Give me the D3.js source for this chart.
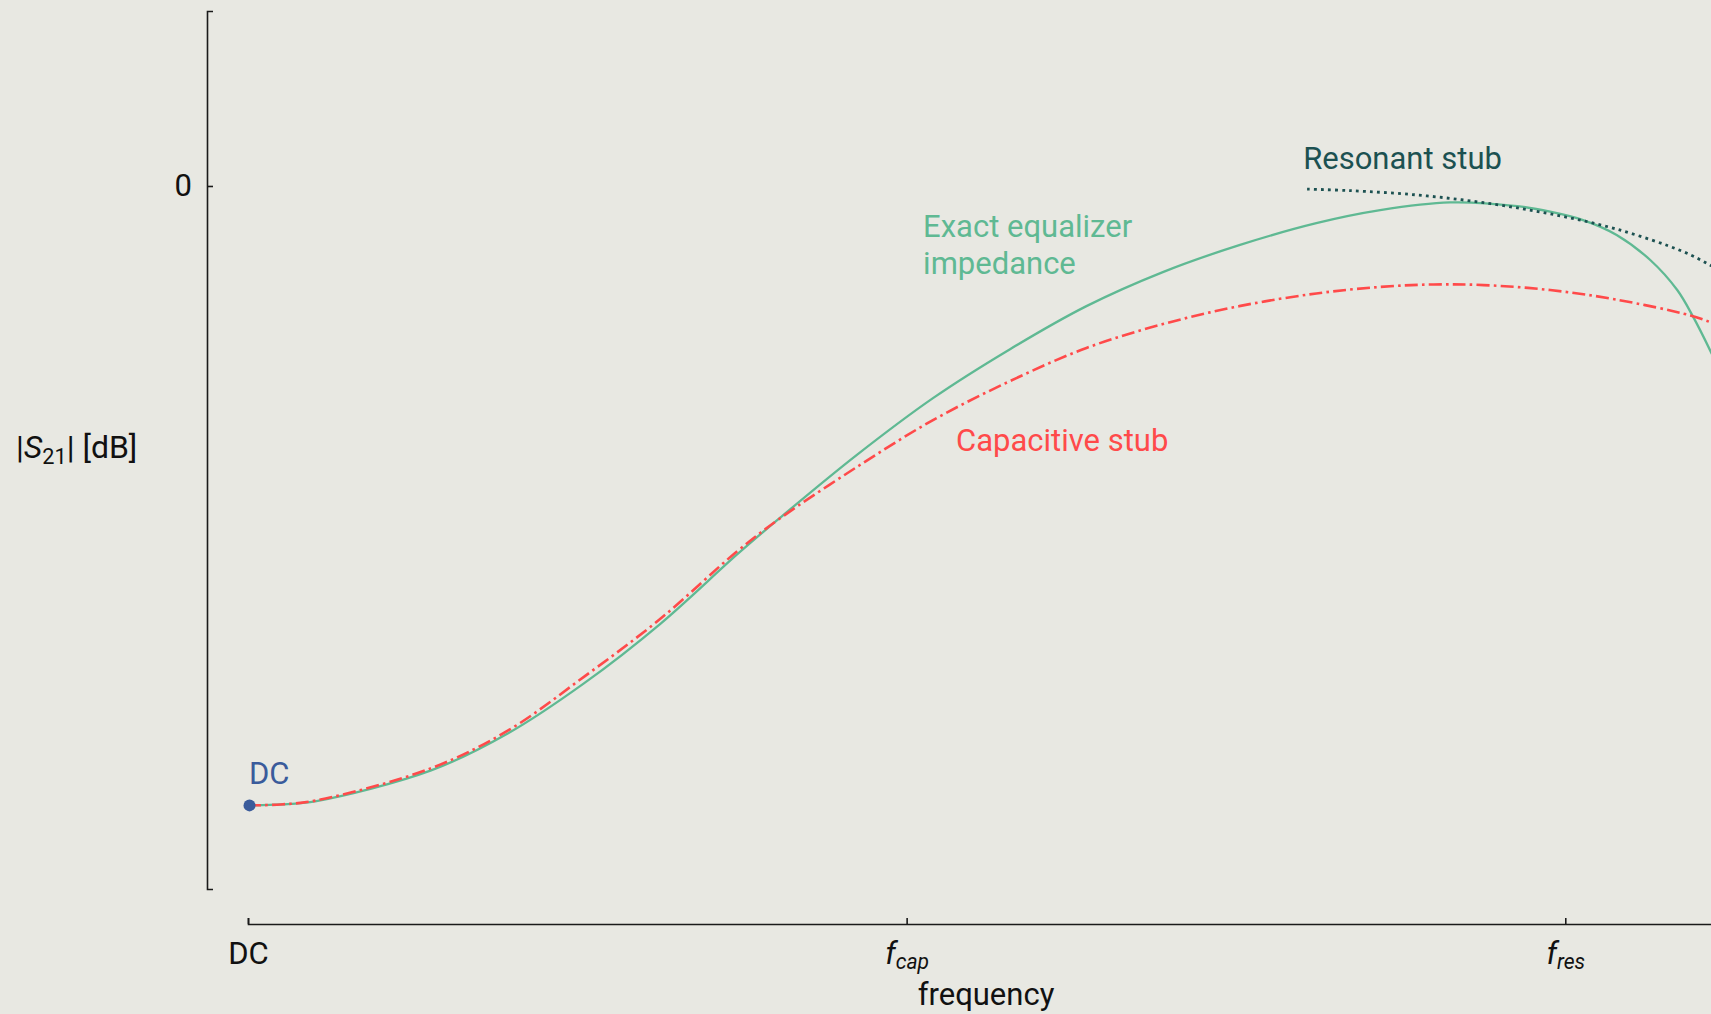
<!DOCTYPE html>
<html>
<head>
<meta charset="utf-8">
<script src="https://cdn.jsdelivr.net/npm/d3@7"></script>
<style>
  html, body { margin: 0; padding: 0; background: #e8e8e2; overflow: hidden; }
  svg { display: block; }
  text { font-family: "Roboto", "Noto Sans", sans-serif; }
</style>
</head>
<body>
<svg id="chart" width="1711" height="1014"></svg>
<script>
// Frequency axis: DC = 0, f_cap = 1, f_res = 2 (normalised positions)
const xTickValues = [0, 1, 2];
const xTickMain = ["DC", "f", "f"];
const xTickSub = ["", "cap", "res"];
const yTickValues = [0];
const yTickLabels = ["0"];

// |S21| in dB for the exact equalizer impedance
const exactFreq = [0, 0.05, 0.104, 0.278, 0.395, 0.510, 0.627, 0.743, 0.808, 0.924, 1.040, 1.157, 1.273, 1.389, 1.505, 1.622, 1.719, 1.825, 1.927, 1.977, 2.027, 2.078, 2.129, 2.170, 2.194, 2.222, 2.251];
const exactDb   = [-20.0, -19.97, -19.86, -18.87, -17.67, -16.06, -14.12, -11.89, -10.71, -8.69, -6.85, -5.27, -3.88, -2.78, -1.91, -1.20, -0.78, -0.53, -0.65, -0.83, -1.10, -1.58, -2.39, -3.36, -4.22, -5.40, -6.75];

// |S21| in dB for the capacitive stub
const capFreq = [0, 0.05, 0.104, 0.278, 0.395, 0.510, 0.627, 0.743, 0.808, 0.924, 1.040, 1.157, 1.273, 1.389, 1.505, 1.622, 1.719, 1.800, 1.876, 1.977, 2.078, 2.190, 2.222, 2.251];
const capDb   = [-20.0, -19.97, -19.84, -18.80, -17.58, -15.85, -13.96, -11.79, -10.73, -9.08, -7.56, -6.30, -5.23, -4.46, -3.88, -3.47, -3.26, -3.18, -3.20, -3.36, -3.67, -4.18, -4.41, -4.62];

// |S21| in dB for the resonant stub (high-frequency part)
const resFreq = [1.608, 1.673, 1.775, 1.876, 1.977, 2.079, 2.179, 2.222, 2.251];
const resDb   = [-0.10, -0.15, -0.29, -0.54, -0.90, -1.40, -2.12, -2.58, -2.95];

// DC operating point
const dcFreq = [0];
const dcDb = [-20.0];

const colors = {
  bg: "#e8e8e2",
  exact: "#5fb993",
  cap: "#ff4a4a",
  res: "#1c5151",
  dc: "#3a5b9b",
  axis: "#1a1a1a"
};

const svg = d3.select("#chart");
svg.append("rect").attr("width", 1711).attr("height", 1014).attr("fill", colors.bg);

const x = d3.scaleLinear().domain([0, 2.241]).range([248, 1724]);
const y = d3.scaleLinear().domain([-22.7, 5.65]).range([889, 11]);
const FS = 31;

// y axis: spine with inward ticks
const yAxis = d3.axisLeft(y)
  .tickValues(yTickValues)
  .tickFormat((d, i) => yTickLabels[i])
  .tickSizeInner(-6)
  .tickSizeOuter(-6)
  .tickPadding(15);
const gy = svg.append("g").attr("transform", "translate(207,0)").call(yAxis);
gy.select(".domain").attr("stroke", colors.axis).attr("stroke-width", 1.6);
gy.selectAll(".tick line").attr("stroke", colors.axis).attr("stroke-width", 1.6);
gy.selectAll(".tick text").attr("font-size", FS).attr("fill", "#111")
  .attr("font-family", "Roboto, 'Noto Sans', sans-serif");

// x axis: spine with inward ticks and custom labels
const xAxis = d3.axisBottom(x)
  .tickValues(xTickValues)
  .tickFormat("")
  .tickSizeInner(-6)
  .tickSizeOuter(-6);
const gx = svg.append("g").attr("transform", "translate(0,924)").call(xAxis);
gx.select(".domain").attr("stroke", colors.axis).attr("stroke-width", 1.6);
gx.selectAll(".tick line").attr("stroke", colors.axis).attr("stroke-width", 1.6);
gx.selectAll(".tick text").remove();
gx.selectAll(".tick").each(function(d, i) {
  const t = d3.select(this).append("text")
    .attr("y", 40)
    .attr("text-anchor", "middle")
    .attr("fill", "#111")
    .attr("font-size", FS);
  if (xTickSub[i]) {
    t.append("tspan").attr("font-style", "italic").text(xTickMain[i]);
    t.append("tspan").attr("font-style", "italic").attr("font-size", FS * 0.68)
      .attr("dy", 5).text(xTickSub[i]);
  } else {
    t.text(xTickMain[i]);
  }
});

// axis titles
svg.append("text")
  .attr("x", 986).attr("y", 1005)
  .attr("text-anchor", "middle")
  .attr("font-size", FS).attr("fill", "#111")
  .text("frequency");

const yl = svg.append("text")
  .attr("x", 16).attr("y", 458)
  .attr("font-size", FS + 1).attr("fill", "#111");
yl.append("tspan").text("|");
yl.append("tspan").attr("font-style", "italic").text("S");
yl.append("tspan").attr("font-size", FS * 0.7).attr("dy", 6).text("21");
yl.append("tspan").attr("dy", -6).text("| [dB]");

// curves
const line = d3.line()
  .x(d => x(d[0]))
  .y(d => y(d[1]))
  .curve(d3.curveCatmullRom.alpha(0.5));

svg.append("path")
  .datum(d3.zip(exactFreq, exactDb))
  .attr("d", line)
  .attr("fill", "none")
  .attr("stroke", colors.exact)
  .attr("stroke-width", 2.3);

svg.append("path")
  .datum(d3.zip(capFreq, capDb))
  .attr("d", line)
  .attr("fill", "none")
  .attr("stroke", colors.cap)
  .attr("stroke-width", 2.6)
  .attr("stroke-dasharray", "13 4.2 2.6 4.2");

svg.append("path")
  .datum(d3.zip(resFreq, resDb))
  .attr("d", line)
  .attr("fill", "none")
  .attr("stroke", colors.res)
  .attr("stroke-width", 2.8)
  .attr("stroke-dasharray", "2.8 4.2");

svg.selectAll("circle.dc")
  .data(d3.zip(dcFreq, dcDb))
  .join("circle")
  .attr("class", "dc")
  .attr("cx", d => x(d[0]) + 1.5)
  .attr("cy", d => y(d[1]))
  .attr("r", 6)
  .attr("fill", colors.dc);

// annotations
svg.append("text")
  .attr("x", x(dcFreq[0]) + 1).attr("y", y(dcDb[0]) - 21)
  .attr("font-size", FS).attr("fill", colors.dc)
  .text("DC");

const ex = svg.append("text")
  .attr("x", x(1.025)).attr("y", 237)
  .attr("font-size", FS).attr("fill", colors.exact);
ex.append("tspan").attr("x", x(1.025)).text("Exact equalizer");
ex.append("tspan").attr("x", x(1.025)).attr("dy", 36.5).text("impedance");

svg.append("text")
  .attr("x", x(1.075)).attr("y", 451)
  .attr("font-size", FS).attr("fill", colors.cap)
  .text("Capacitive stub");

svg.append("text")
  .attr("x", x(1.602)).attr("y", 169)
  .attr("font-size", FS).attr("fill", colors.res)
  .text("Resonant stub");
</script>
</body>
</html>
